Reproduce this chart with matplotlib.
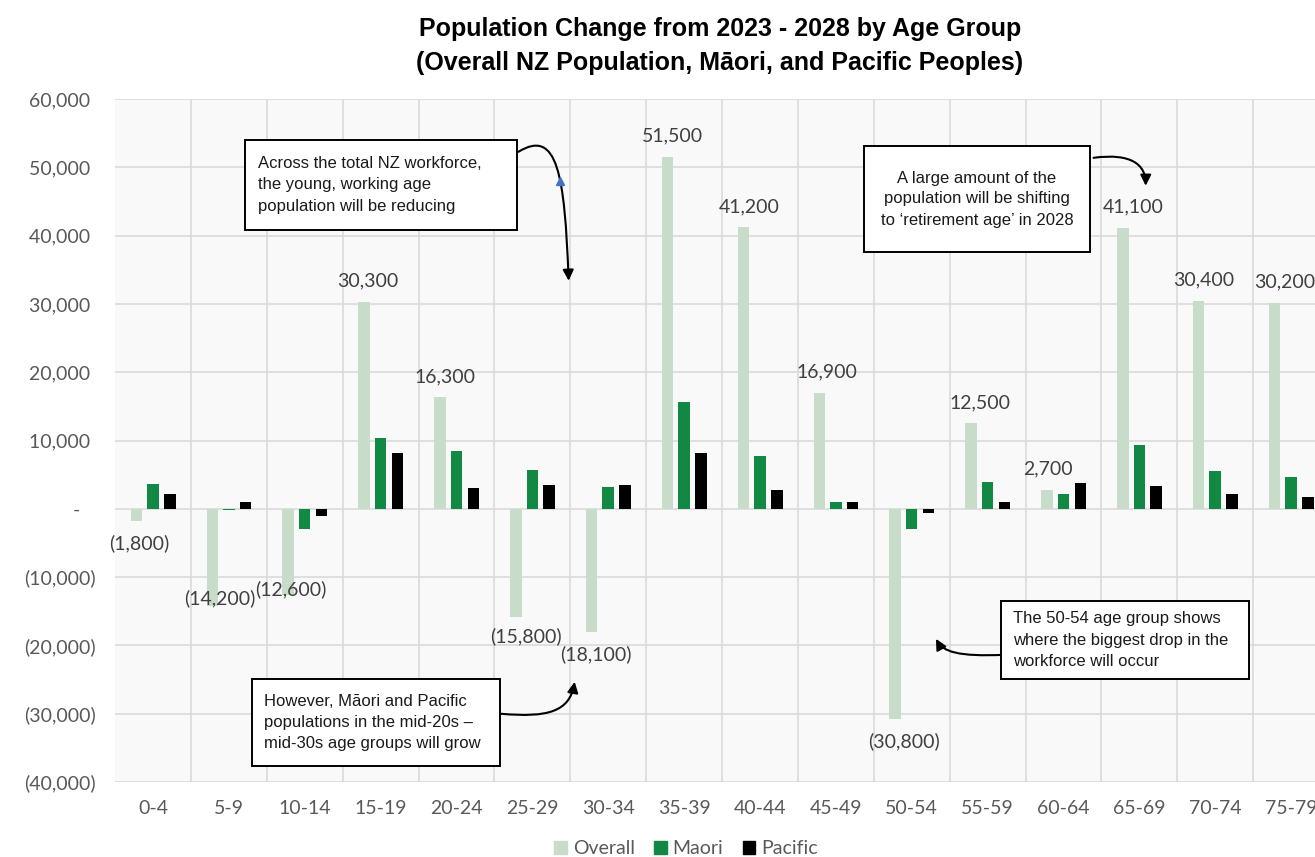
import numpy as np
import matplotlib.pyplot as plt
from matplotlib.path import Path
from matplotlib.patches import FancyArrowPatch, Patch, Rectangle
from matplotlib.ticker import FuncFormatter

# population change 2023 -> 2028 by age group
age_groups = ["0-4", "5-9", "10-14", "15-19", "20-24", "25-29", "30-34", "35-39",
              "40-44", "45-49", "50-54", "55-59", "60-64", "65-69", "70-74", "75-79"]
overall = [-1800, -14200, -12600, 30300, 16300, -15800, -18100, 51500,
           41200, 16900, -30800, 12500, 2700, 41100, 30400, 30200]
maori = [3600, -200, -3000, 10300, 8400, 5700, 3200, 15700,
         7800, 1000, -2900, 3900, 2200, 9300, 5500, 4700]
pacific = [2100, 1000, -1000, 8100, 3000, 3500, 3500, 8200,
           2700, 1000, -600, 1000, 3800, 3300, 2100, 1700]
series_names = ["Overall", "Maori", "Pacific"]

# label nudges (pixels)
label_dx = [3, 8, 3, 4, 5, 10, 4, 5, 6, 8, 9, 9, 1, 10, 5, 10]
label_dy = [-22, 8, 6, 21, 21, -19, -22, 21, 21, 21, -22, 21, 21, 21, 21, 21]

C_OVERALL = "#c8ddc9"
C_MAORI = "#118844"
C_PACIFIC = "#000000"
TXT = "#595959"

W, H = 1315, 857
fig = plt.figure(figsize=(W / 100, H / 100), dpi=100)
ax = fig.add_axes([115 / W, 75 / H, 1214 / W, 683 / H])
ax.set_facecolor("#f9f9f9")

x = np.arange(len(age_groups))
bw = 0.152
offs = [-0.218, 0.0, 0.222]
for vals, off, col in zip([overall, maori, pacific], offs, [C_OVERALL, C_MAORI, C_PACIFIC]):
    ax.bar(x + off, vals, width=bw, color=col, zorder=3)

for i, v in enumerate(overall):
    txt = f"{v:,}" if v >= 0 else f"({-v:,})"
    ax.annotate(txt, (x[i] + offs[0], v), xytext=(label_dx[i], label_dy[i]),
                textcoords="offset pixels", ha="center", va="center",
                fontsize=14, color="#404040", family="Lato", zorder=5)

ax.set_xlim(-0.5, len(age_groups) - 0.5)
ax.set_ylim(-40000, 60000)
ax.set_yticks(np.arange(-40000, 60001, 10000))


def acct(v, pos):
    if v > 0:
        return f"{v:,.0f} "
    if v < 0:
        return f"({-v:,.0f})"
    return "-   "


ax.yaxis.set_major_formatter(FuncFormatter(acct))
ax.set_xticks(x)
ax.set_xticklabels(age_groups)
ax.set_xticks(np.arange(0.5, len(age_groups) - 0.5, 1), minor=True)
ax.tick_params(axis="both", which="both", length=0, labelsize=14, labelcolor=TXT)
ax.tick_params(axis="x", pad=13)
ax.tick_params(axis="y", pad=14)
for lab in ax.get_xticklabels() + ax.get_yticklabels():
    lab.set_family("Lato")

ax.grid(axis="y", which="major", color="#dadada", lw=1.2, zorder=0)
ax.grid(axis="x", which="minor", color="#dadada", lw=1.2, zorder=0)
for s in ax.spines.values():
    s.set_visible(False)

fig.text(720 / W, 1 - 46 / H,
         "Population Change from 2023 - 2028 by Age Group\n"
         "(Overall NZ Population, M\u0101ori, and Pacific Peoples)",
         ha="center", va="center", fontsize=18, fontweight="bold",
         family="Liberation Sans", linespacing=1.55)


def px(xp, yp):
    # figure pixel -> data coords
    return ((xp - 152.8) / 75.6, (509 - yp) / 6.83 * 1000)


def note(text, box, tx, ha="left"):
    x0, y0, x1, y1 = box
    fig.add_artist(Rectangle((x0 / W, 1 - y1 / H), (x1 - x0) / W, (y1 - y0) / H,
                             transform=fig.transFigure, fc="white", ec="black",
                             lw=1.4, zorder=10))
    fig.text(tx / W, 1 - (y0 + y1) / 2 / H, text, ha=ha, va="center", fontsize=12,
             multialignment=ha, family="Liberation Sans", color="#1a1a1a",
             linespacing=1.5, zorder=11)


note("Across the total NZ workforce,\nthe young, working age\npopulation will be reducing",
     (245, 140, 517, 230), 258)
note("A large amount of the\npopulation will be shifting\nto \u2018retirement age\u2019 in 2028",
     (864, 146, 1090, 252), 977, ha="center")
note("However, M\u0101ori and Pacific\npopulations in the mid-20s \u2013\nmid-30s age groups will grow",
     (252, 679, 500, 766), 264)
note("The 50-54 age group shows\nwhere the biggest drop in the\nworkforce will occur",
     (1001, 601, 1249, 679), 1013)


def curve(pts):
    verts = [px(*p) for p in pts]
    path = Path(verts, [Path.MOVETO, Path.CURVE4, Path.CURVE4, Path.CURVE4])
    ax.add_patch(FancyArrowPatch(path=path, arrowstyle="-|>", mutation_scale=16,
                                 lw=1.5, color="black", zorder=8, clip_on=False))


curve([(517, 152), (556, 128), (563, 175), (567, 281)])
curve([(1090, 158), (1128, 153), (1142, 165), (1142, 186)])
curve([(500, 714), (546, 718), (568, 712), (573, 682)])
curve([(1001, 655), (955, 657), (940, 652), (933, 639)])
bx, by = px(558, 181)
ax.plot(bx, by, marker="^", ms=6, color="#4472c4", zorder=9, clip_on=False)

handles = [Patch(color=c) for c in [C_OVERALL, C_MAORI, C_PACIFIC]]
leg = fig.legend(handles, series_names, loc="center", bbox_to_anchor=(686 / W, 1 - 849 / H),
                 ncol=3, frameon=False, handlelength=0.65, handleheight=0.65,
                 handletextpad=0.3, columnspacing=1.0, prop={"family": "Lato", "size": 14})
for t in leg.get_texts():
    t.set_color(TXT)

fig.savefig("out.png", dpi=100)
